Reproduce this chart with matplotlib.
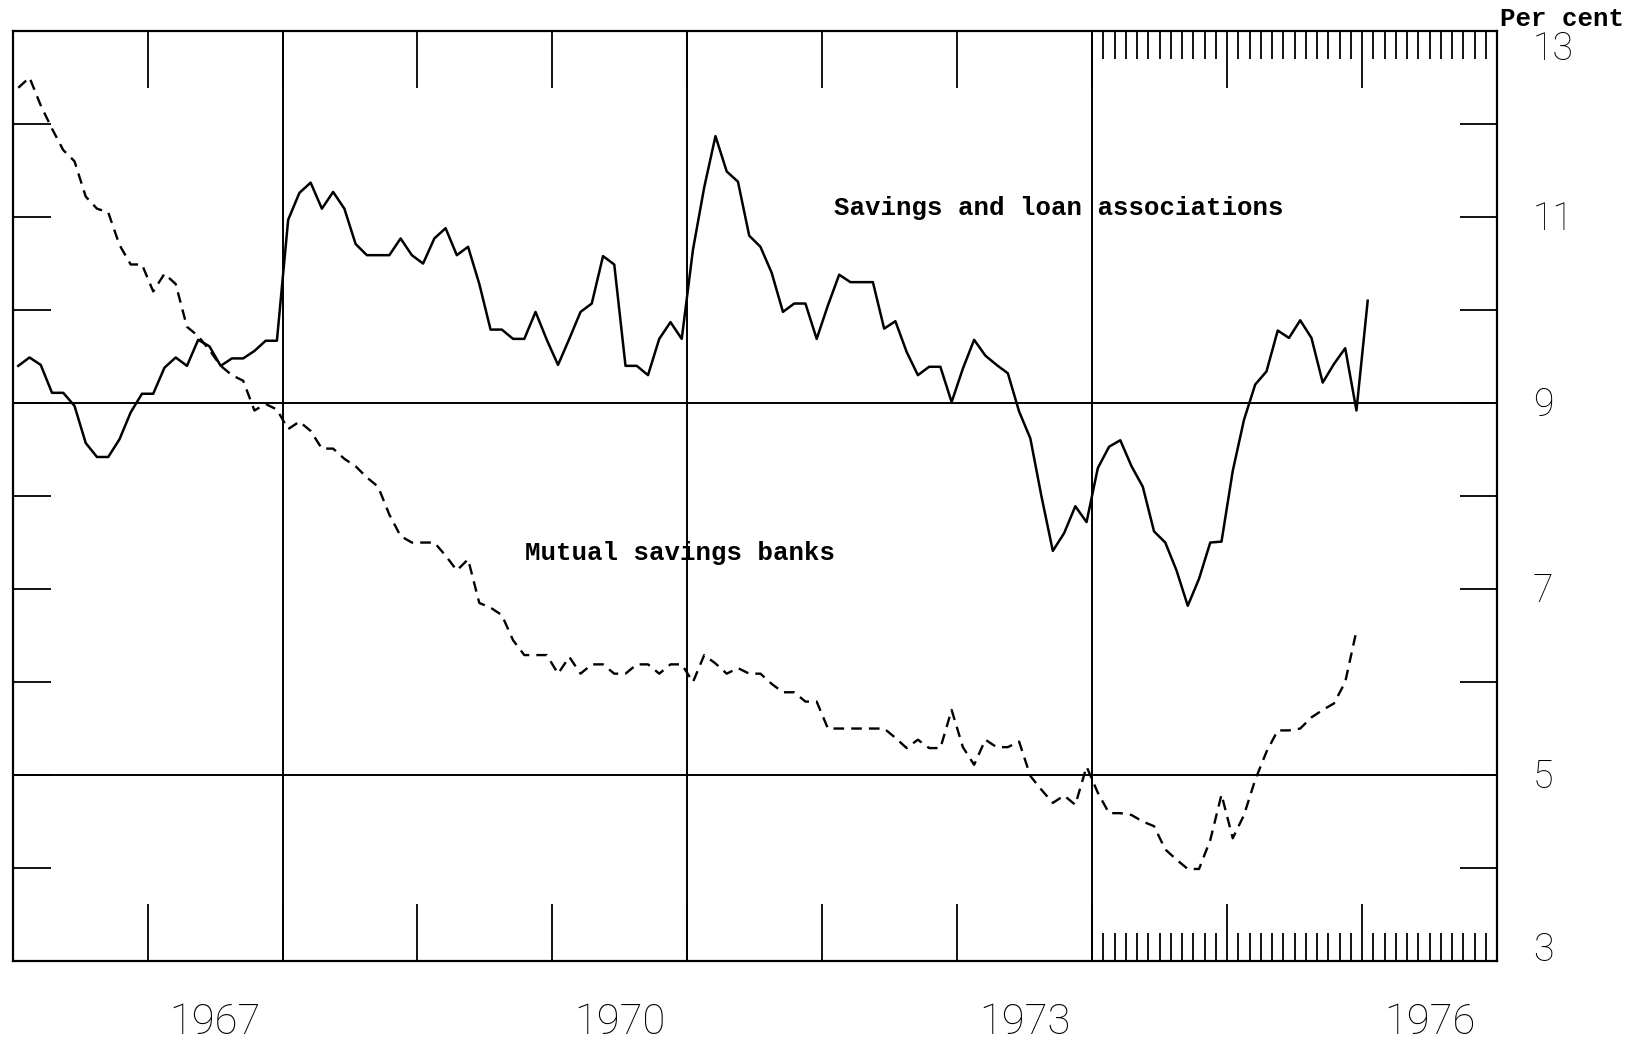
import numpy as np
import matplotlib
matplotlib.use('Agg')
from matplotlib import pyplot as plt
import matplotlib.transforms as mtransforms

# monthly rates, Jan 1966 onwards (per cent)
sl_rates = [9.40, 9.49, 9.41, 9.11, 9.11, 8.97, 8.57, 8.42, 8.42, 8.61, 8.90, 9.10,
            9.10, 9.38, 9.49, 9.40, 9.68, 9.61, 9.40, 9.48, 9.48, 9.56, 9.67, 9.67,
            10.97, 11.26, 11.37, 11.09, 11.27, 11.09, 10.71, 10.59, 10.59, 10.59, 10.77, 10.59,
            10.50, 10.77, 10.88, 10.59, 10.68, 10.28, 9.79, 9.79, 9.69, 9.69, 9.98, 9.68,
            9.41, 9.69, 9.98, 10.07, 10.58, 10.49, 9.40, 9.40, 9.30, 9.69, 9.87, 9.69,
            10.65, 11.32, 11.87, 11.49, 11.38, 10.80, 10.68, 10.40, 9.98, 10.07, 10.07, 9.69,
            10.05, 10.38, 10.30, 10.30, 10.30, 9.80, 9.88, 9.55, 9.30, 9.39, 9.39, 9.01,
            9.37, 9.68, 9.51, 9.41, 9.32, 8.91, 8.62, 7.99, 7.41, 7.60, 7.89, 7.72,
            8.30, 8.53, 8.60, 8.32, 8.10, 7.62, 7.50, 7.20, 6.82, 7.11, 7.50, 7.51,
            8.27, 8.82, 9.20, 9.34, 9.78, 9.70, 9.89, 9.70, 9.22, 9.42, 9.59, 8.92,
            10.10]

msb_rates = [12.39, 12.50, 12.20, 11.95, 11.72, 11.60, 11.22, 11.09, 11.05, 10.70, 10.49, 10.49,
             10.20, 10.39, 10.28, 9.82, 9.72, 9.57, 9.40, 9.30, 9.24, 8.92, 8.99, 8.93,
             8.72, 8.80, 8.70, 8.51, 8.51, 8.40, 8.32, 8.20, 8.10, 7.80, 7.57, 7.50,
             7.50, 7.50, 7.36, 7.20, 7.32, 6.85, 6.80, 6.72, 6.45, 6.29, 6.29, 6.29,
             6.09, 6.27, 6.09, 6.19, 6.19, 6.09, 6.09, 6.19, 6.19, 6.09, 6.19, 6.19,
             6.00, 6.29, 6.20, 6.09, 6.15, 6.09, 6.09, 5.98, 5.89, 5.89, 5.79, 5.79,
             5.50, 5.50, 5.50, 5.50, 5.50, 5.50, 5.40, 5.29, 5.38, 5.29, 5.29, 5.70,
             5.30, 5.11, 5.38, 5.30, 5.30, 5.36, 4.99, 4.84, 4.70, 4.78, 4.68, 5.09,
             4.81, 4.59, 4.59, 4.57, 4.50, 4.45, 4.20, 4.09, 3.99, 3.99, 4.30, 4.79,
             4.32, 4.57, 4.95, 5.25, 5.48, 5.48, 5.50, 5.62, 5.70, 5.77, 6.00, 6.55]

start_year = 1966
year_labels = ['1967', '1970', '1973', '1976']
right_labels = ['13', '11', '9', '7', '5', '3']
full_vlines = [1968, 1971, 1974]
full_hlines = [9, 5]

x_sl = start_year + (np.arange(len(sl_rates)) + 0.5) / 12.0
x_msb = start_year + (np.arange(len(msb_rates)) + 0.5) / 12.0

fig = plt.figure(figsize=(16.42, 10.42), dpi=100)
ax = fig.add_axes([0.0077, 0.0777, 0.904, 0.8925])
ax.set_xlim(1966, 1977)
ax.set_ylim(3, 13)

# full grid lines
for xv in full_vlines:
    ax.axvline(xv, color='black', lw=1.4, zorder=1)
for yv in full_hlines:
    ax.axhline(yv, color='black', lw=1.4, zorder=1)

ax.plot(x_sl, sl_rates, color='black', lw=1.8, zorder=3)
ax.plot(x_msb, msb_rates, color='black', lw=1.7, dashes=(4.5, 3), zorder=3)

for sp in ax.spines.values():
    sp.set_linewidth(1.6)

# ticks: years, monthly from 1974, integer per cent
ax.set_xticks(np.arange(1967, 1977))
minor = [1974 + k / 12.0 for k in range(1, 36) if k % 12 != 0]
ax.set_xticks(minor, minor=True)
ax.set_yticks(np.arange(4, 13))
ax.tick_params(axis='x', which='major', direction='in', top=True, bottom=True,
               length=41, width=1.3, labelbottom=False)
ax.tick_params(axis='x', which='minor', direction='in', top=True, bottom=True,
               length=20, width=1.3)
ax.tick_params(axis='y', direction='in', left=True, right=True, length=27,
               width=1.3, labelleft=False)

num_font = dict(family=['Roboto', 'DejaVu Sans'], fontweight='light', color='black')
trans = mtransforms.blended_transform_factory(ax.transData, ax.transAxes)
for i, lab in enumerate(year_labels):
    ax.text(1967.5 + 3 * i, -0.066, lab, transform=trans, ha='center', va='center',
            fontsize=30, **num_font)

# right-hand scale, baseline placed so the digits centre on their value
trans_r = mtransforms.blended_transform_factory(ax.transAxes, ax.transData)
for lab in right_labels:
    v = int(lab)
    yc = v
    if v == 13:
        yc = 12.83
    elif v == 3:
        yc = 3.14
    ax.text(1.024, yc - 0.14, lab, transform=trans_r, ha='left', va='baseline',
            fontsize=27, **num_font)

mono = dict(family='Liberation Mono', fontweight='bold', fontsize=18.5, color='black')
ax.text(1972.09, 11.1, 'Savings and loan associations', ha='left', va='center', **mono)
ax.text(1969.80, 7.39, 'Mutual savings banks', ha='left', va='center', **mono)
fig.text(0.9135, 0.982, 'Per cent', ha='left', va='center', **mono)

plt.savefig('out.png', dpi=100)
